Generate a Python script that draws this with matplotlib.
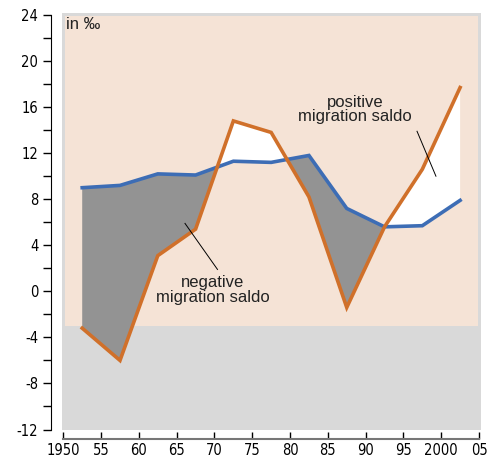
import matplotlib
matplotlib.use("Agg")
import matplotlib.pyplot as plt
from matplotlib.patches import Rectangle
import numpy as np

# five-year periods, plotted at their midpoints
years = [1952.5, 1957.5, 1962.5, 1967.5, 1972.5, 1977.5, 1982.5, 1987.5, 1992.5, 1997.5, 2002.5]
blue_vals = [9.0, 9.2, 10.2, 10.1, 11.3, 11.2, 11.8, 7.2, 5.6, 5.7, 7.9]
orange_vals = [-3.2, -6.0, 3.1, 5.4, 14.8, 13.8, 8.2, -1.4, 5.6, 10.6, 17.7]

xticks = list(range(1950, 2006, 5))
xlabels = ["1950", "55", "60", "65", "70", "75", "80", "85", "90", "95", "2000", "05"]
yticks = list(range(-12, 25, 4))

PEACH = "#f5e3d6"
PANEL_GRAY = "#d9d9d9"
DARK_FILL = "#939393"
BLUE = "#3d6db5"
ORANGE = "#d0702a"

plt.rcParams["font.family"] = ["DejaVu Sans"]
plt.rcParams["font.stretch"] = "condensed"
plt.rcParams["axes.unicode_minus"] = False

fig = plt.figure(figsize=(4.95, 4.61), dpi=100)
ax = fig.add_axes([0.1279, 0.0683, 0.8398, 0.8992])
ax.set_xlim(1950, 2005)
ax.set_ylim(-12, 24)
ax.set_facecolor("none")
ax.add_patch(Rectangle((1949.85, -12.05), 55.4, 36.2, facecolor=PANEL_GRAY, edgecolor="none",
                       clip_on=False, zorder=0))
ax.add_patch(Rectangle((1950.25, -3), 54.6, 26.95, facecolor=PEACH, edgecolor="none", zorder=0))

x = np.array(years)
b = np.array(blue_vals)
o = np.array(orange_vals)
ax.fill_between(x, b, o, where=o >= b, interpolate=True, facecolor="white", edgecolor="none", zorder=1)
ax.fill_between(x, b, o, where=o <= b, interpolate=True, facecolor=DARK_FILL, edgecolor="none", zorder=1)
ax.plot(x, b, color=BLUE, lw=2.6, solid_joinstyle="miter", zorder=3)
ax.plot(x, o, color=ORANGE, lw=2.6, solid_joinstyle="miter", zorder=3)

# labels and leader lines
txt_font = dict(family=["Liberation Sans", "DejaVu Sans"], fontstretch="normal", color="#222222")
ax.plot([1966.1, 1970.4], [5.9, 1.9], color="black", lw=0.7, zorder=4)
ax.plot([1996.8, 1999.3], [13.9, 10.0], color="black", lw=0.7, zorder=4)
ax.text(1969.8, 0.1, "negative\nmigration saldo", ha="center", va="center", fontsize=12,
        linespacing=0.95, zorder=5, **txt_font)
ax.text(1988.6, 15.8, "positive\nmigration saldo", ha="center", va="center", fontsize=12,
        linespacing=0.95, zorder=5, **txt_font)
ax.text(1950.3, 23.2, "in \u2030", ha="left", va="center", fontsize=12, zorder=5, **txt_font)

for s in ["top", "right"]:
    ax.spines[s].set_visible(False)
ax.spines["left"].set_position(("outward", 9))
ax.spines["bottom"].set_position(("outward", 7))
ax.spines["left"].set_bounds(-12, 24)
ax.spines["bottom"].set_color("#777777")
ax.spines["bottom"].set_linewidth(1.5)

ax.set_yticks(yticks)
ax.set_yticks(list(range(-10, 24, 4)), minor=True)
ax.tick_params(axis="y", which="both", direction="out", length=6, width=1, labelsize=10.5, pad=3)
ax.set_xticks(xticks)
ax.set_xticklabels(xlabels)
ax.tick_params(axis="x", direction="in", length=5, width=1, labelsize=10.5, color="black", pad=3)

fig.savefig("out.png", dpi=100)
